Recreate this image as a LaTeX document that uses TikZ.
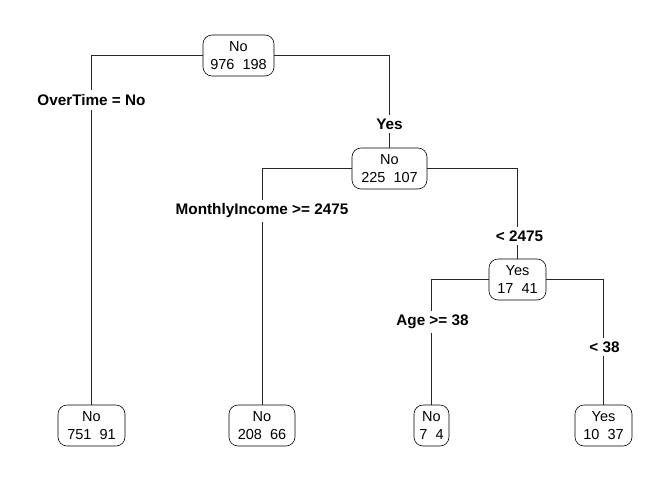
\documentclass[tikz,border=0pt]{standalone}
\usepackage{fontspec}
\setmainfont{Liberation Sans}
\begin{document}
\begin{tikzpicture}[x=1pt,y=-1pt,
  tbox/.style={draw, rounded corners=9pt, line width=0.6pt, align=center, inner sep=0pt,
    minimum height=41pt, font=\fontsize{14.5}{18}\selectfont},
  split/.style={fill=white, inner xsep=1pt, inner ysep=4pt, font=\fontsize{15.3}{17}\selectfont\bfseries},
  edge/.style={line width=0.6pt, draw=black!85}]
\useasboundingbox (0,0) rectangle (672,480);
\node[tbox, minimum width=71pt] (n1) at (238.5,55.5) {No\\976\ \ 198};
\node[tbox, minimum width=75pt] (n2) at (389.5,168.5) {No\\225\ \ 107};
\node[tbox, minimum width=57pt] (n3) at (517.5,279.5) {Yes\\17\ \ 41};
\node[tbox, minimum width=67pt] (l1) at (91.5,425.5) {No\\751\ \ 91};
\node[tbox, minimum width=66pt] (l2) at (262,425.5) {No\\208\ \ 66};
\node[tbox, minimum width=35pt] (l3) at (431.5,425.5) {No\\7\ \ 4};
\node[tbox, minimum width=57pt] (l4) at (603.5,425.5) {Yes\\10\ \ 37};
\draw[edge] (n1.west) -| (l1.north);
\draw[edge] (n1.east) -| (n2.north);
\draw[edge] (n2.west) -| (l2.north);
\draw[edge] (n2.east) -| (n3.north);
\draw[edge] (n3.west) -| (l3.north);
\draw[edge] (n3.east) -| (l4.north);
\node[split] (s1) at (91.5,100) {OverTime = No};
\node[split] (s2) at (389.5,124) {Yes};
\node[split] (s3) at (262,211) {MonthlyIncome >= 2475};
\node[split] (s4) at (519.5,236) {< 2475};
\node[split] (s5) at (432.5,322) {Age >= 38};
\node[split] (s6) at (604.5,347) {< 38};
\end{tikzpicture}
\end{document}
